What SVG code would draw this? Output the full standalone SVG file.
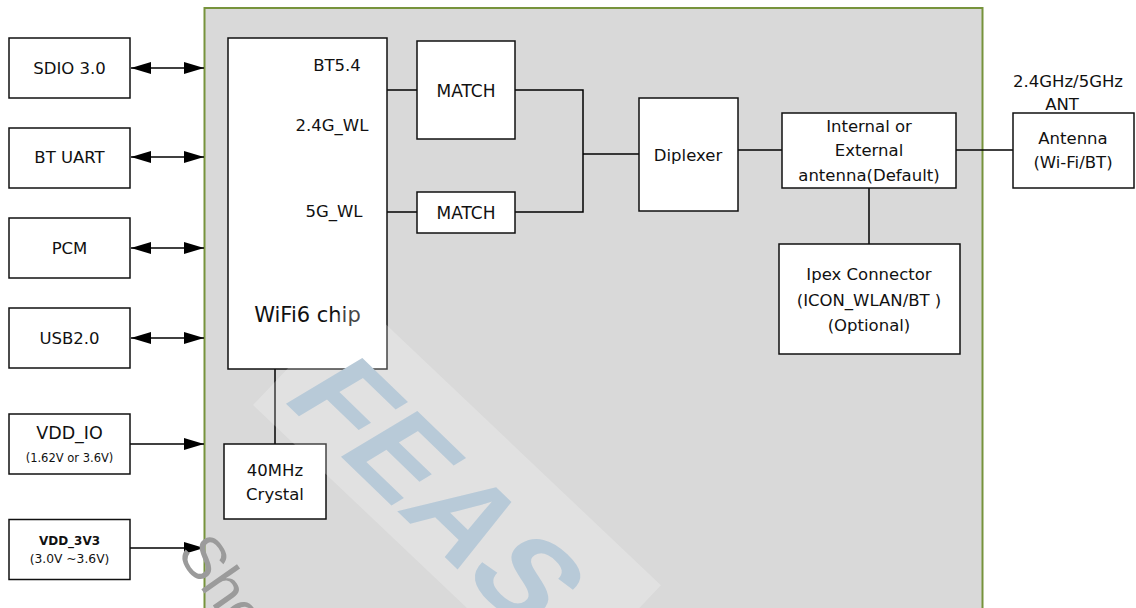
<svg xmlns="http://www.w3.org/2000/svg" width="1136" height="608" viewBox="0 0 1136 608">
<style>
.box{fill:#fff;stroke:#111;stroke-width:1.5}
.t{font-family:"DejaVu Sans","Noto Sans",sans-serif;font-size:16.5px;fill:#111;text-anchor:middle}
.s{font-size:11.5px}
.b{font-weight:bold;font-size:12px}
.ln{fill:none;stroke:#000;stroke-width:1.5}
.wm{font-family:"Liberation Sans","DejaVu Sans",sans-serif}
</style>
<defs>
<marker id="ah" markerUnits="userSpaceOnUse" markerWidth="20" markerHeight="12" viewBox="0 0 20 12" refX="20" refY="6" orient="auto-start-reverse">
<path d="M0,0 L20,6 L0,12 z" fill="#000"/>
</marker>
</defs>
<rect width="1136" height="608" fill="#fff"/>
<g id="module">
<rect x="204.5" y="8" width="778" height="620" fill="#d9d9d9" stroke="#77933c" stroke-width="2"/>
</g>
<g id="connectors">
<path class="ln" d="M131,68 H204" marker-start="url(#ah)" marker-end="url(#ah)"/>
<path class="ln" d="M131,157 H204" marker-start="url(#ah)" marker-end="url(#ah)"/>
<path class="ln" d="M131,248 H204" marker-start="url(#ah)" marker-end="url(#ah)"/>
<path class="ln" d="M131,338 H204" marker-start="url(#ah)" marker-end="url(#ah)"/>
<path class="ln" d="M130,444 H204" marker-end="url(#ah)"/>
<path class="ln" d="M130,548 H204" marker-end="url(#ah)"/>
<path class="ln" d="M387,90 H417"/>
<path class="ln" d="M387,212 H417"/>
<path class="ln" d="M515,90 H583 V212 H515"/>
<path class="ln" d="M583,154 H639"/>
<path class="ln" d="M738,150 H782"/>
<path class="ln" d="M956,150 H1013"/>
<path class="ln" d="M869,188 V244"/>
<path class="ln" d="M275,369 V444"/>
</g>
<g id="sdio"><rect class="box" x="9" y="38" width="121" height="60"/><text class="t" x="69.5" y="74">SDIO 3.0</text></g>
<g id="btuart"><rect class="box" x="9" y="128" width="121" height="60"/><text class="t" x="69.5" y="163">BT UART</text></g>
<g id="pcm"><rect class="box" x="9" y="218" width="121" height="60"/><text class="t" x="69.5" y="254">PCM</text></g>
<g id="usb"><rect class="box" x="9" y="308" width="121" height="60"/><text class="t" x="69.5" y="344">USB2.0</text></g>
<g id="vddio"><rect class="box" x="9" y="414" width="121" height="60"/><text class="t" x="69.5" y="439" style="font-size:17.5px">VDD_IO</text><text class="t s" x="69.5" y="462">(1.62V or 3.6V)</text></g>
<g id="vdd3v3"><rect class="box" x="9" y="519.5" width="121" height="60"/><text class="t b" x="69.5" y="545">VDD_3V3</text><text class="t" x="69.5" y="563" style="font-size:12.3px">(3.0V ~3.6V)</text></g>
<g id="chip"><rect class="box" x="228" y="38" width="159" height="331"/>
<text class="t" x="337" y="71">BT5.4</text>
<text class="t" x="332" y="131">2.4G_WL</text>
<text class="t" x="334" y="217">5G_WL</text>
<text class="t" x="307.5" y="322" style="font-size:21px">WiFi6 chip</text></g>
<g id="match1"><rect class="box" x="417" y="41" width="98" height="98"/><text class="t" x="466" y="97" style="font-size:17px">MATCH</text></g>
<g id="match2"><rect class="box" x="417" y="192" width="98" height="41"/><text class="t" x="466" y="219" style="font-size:17px">MATCH</text></g>
<g id="diplexer"><rect class="box" x="639" y="98" width="99" height="113"/><text class="t" x="688" y="161">Diplexer</text></g>
<g id="switch"><rect class="box" x="782" y="113" width="174" height="75"/>
<text class="t" x="869" y="132">Internal or</text>
<text class="t" x="869" y="156">External</text>
<text class="t" x="869" y="181">antenna(Default)</text></g>
<g id="antenna"><rect class="box" x="1013" y="113" width="121" height="75"/>
<text class="t" x="1073" y="144">Antenna</text>
<text class="t" x="1073" y="168">(Wi-Fi/BT)</text></g>
<g id="antlabel"><text class="t" x="1068" y="87">2.4GHz/5GHz</text><text class="t" x="1062" y="110">ANT</text></g>
<g id="ipex"><rect class="box" x="779" y="244" width="181" height="110"/>
<text class="t" x="869" y="280">Ipex Connector</text>
<text class="t" x="869" y="306">(ICON_WLAN/BT )</text>
<text class="t" x="869" y="331">(Optional)</text></g>
<g id="crystal"><rect class="box" x="224" y="444" width="102" height="75"/>
<text class="t" x="275" y="476">40MHz</text>
<text class="t" x="275" y="500">Crystal</text></g>
<g id="watermark">
<rect x="0" y="-150" width="420" height="150" fill="#fff" opacity="0.22" transform="translate(253,405) rotate(43.5)"/>
<text class="wm" x="0" y="0" transform="translate(280,398) rotate(44) skewX(-15)" style="font-size:125px;font-weight:bold;fill:#b8cad8">FEAS</text>
<text class="wm" x="0" y="0" transform="translate(176,553) rotate(55)" style="font-size:60px;fill:#9b9b9b">She</text>
</g>
</svg>
